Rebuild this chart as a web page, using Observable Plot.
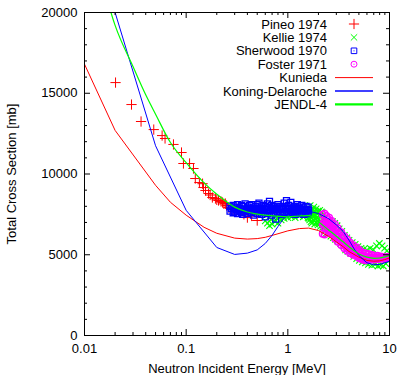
<!DOCTYPE html>
<html><head><meta charset="utf-8">
<script src="https://cdn.jsdelivr.net/npm/d3@7"></script>
<script src="https://cdn.jsdelivr.net/npm/@observablehq/plot@0.6"></script>
<style>body{margin:0;background:#fff}#chart{width:399px;height:375px}</style>
</head><body><div id="chart"></div>
<script>
// ---- tick values / labels ----
const xMajor = [0.01, 0.1, 1, 10];
const xMajorLabels = ["0.01", "0.1", "1", "10"];
const xMinor = [0.02,0.03,0.04,0.05,0.06,0.07,0.08,0.09,0.2,0.3,0.4,0.5,0.6,0.7,0.8,0.9,2,3,4,5,6,7,8,9];
const yMajor = [0, 5000, 10000, 15000, 20000];
const yMinor = [1000,2000,3000,4000,6000,7000,8000,9000,11000,12000,13000,14000,16000,17000,18000,19000];
const legendLabels = ["Pineo 1974","Kellie 1974","Sherwood 1970","Foster 1971","Kunieda","Koning-Delaroche","JENDL-4"];

// ---- experimental data [E (MeV), sigma (mb)] ----
const pineo = [[0.0202,15660],[0.029,14300],[0.036,13250],[0.048,12750],[0.058,12380],[0.062,12200],
 [0.075,11830],[0.09,11330],[0.094,10650],[0.108,10650],[0.118,10340],[0.123,9720],[0.135,9470],
 [0.145,9400],[0.148,9160],[0.155,8980],[0.166,8790],[0.172,8700],[0.181,8545],[0.194,8480],[0.2,8400],
 [0.208,8360],[0.22,8300],[0.228,8235],[0.235,8150],[0.243,8170],[0.25,8050],[0.26,7930],[0.272,7860],
 [0.29,7800],[0.31,7700],[0.34,7600],[0.37,7500],[0.40,7300],[0.44,7400],[0.50,7120]];

const kellie = [[0.60,7100],[0.63,6950],[0.66,6800],[0.68,7200],[0.70,6900],[0.72,7300],[0.75,7050],[0.78,7250],
 [0.80,6950],[0.83,7350],[0.86,7150],[0.89,7400],[0.92,7250],[0.96,7450],[1.0,7300],[1.04,7500],[1.08,7350],
 [1.13,7450],[1.18,7300],[1.24,7500],[1.30,7400],[1.36,7550],[1.42,7350],[1.48,7500],[1.55,7650],[1.58,7300],
 [1.60,7900],[1.61,7250],[1.62,7500],[1.64,7150],[1.65,7600],[1.66,8050],[1.68,7700],[1.69,7050],[1.70,7300],
 [1.72,6950],[1.73,7450],[1.74,7850],[1.76,7550],[1.77,7800],[1.78,7150],[1.80,7950],[1.81,7100],[1.82,7400],
 [1.84,6900],[1.85,7500],[1.86,7700],[1.88,7250],[1.89,7600],[1.90,7850],[1.92,7000],[1.93,7300],[1.95,7550],
 [1.97,7700],[1.98,6850],[2.0,7650],[2.01,7000],[2.03,7200],[2.05,7400],[2.06,7750],[2.09,6750],[2.1,7100],
 [2.12,7400],[2.14,7650],[2.15,7000],[2.17,6850],[2.18,7600],[2.2,6700],
 [2.25,7200],[2.3,6450],[2.35,7300],[2.4,6350],[2.45,7100],[2.5,6300],[2.6,7000],[2.65,6150],[2.75,7050],
 [2.8,6050],[2.9,6950],[2.95,5950],[3.05,6800],[3.1,5850],[3.2,6600],[3.3,5700],[3.4,6450],[3.5,5550],
 [3.6,6200],[3.7,5300],[3.8,6050],[3.9,5200],[4.0,5900],[4.15,5100],[4.3,5750],[4.45,4900],[4.6,5650],
 [4.75,4750],[4.9,5500],[5.05,4650],[5.25,5400],[5.4,4550],[5.6,5350],[5.8,4500],[6.0,5300],[6.2,4400],
 [6.45,5400],[6.7,4350],[6.95,5300],[7.2,4400],[7.45,5550],[7.7,4300],[7.95,5700],[8.2,4350],[8.45,5550],
 [8.7,4300],[8.95,5400],[9.2,4450],[9.45,5250],[9.7,4600],[9.9,5100]];

const sherwood = [[0.27,8000],[0.27,7700],[0.28,7850],[0.29,8050],[0.29,7600],[0.30,7950],[0.30,7650],[0.31,7800],
 [0.32,8100],[0.32,7550],[0.33,7900],[0.33,7700],[0.34,7850],[0.35,8050],[0.35,7600],[0.36,8000],[0.36,7500],
 [0.37,7800],[0.38,8150],[0.38,7650],[0.39,7750],[0.40,7950],[0.40,7550],[0.41,7850],[0.42,8050],[0.42,7700],
 [0.43,7800],[0.44,8100],[0.44,7600],[0.45,7750],[0.46,7900],[0.46,7450],[0.47,7850],[0.48,8000],[0.48,7650],
 [0.49,7800],[0.50,8100],[0.50,7550],[0.51,7850],[0.52,8200],[0.52,7700],[0.535,7800],[0.55,7950],[0.55,7500],
 [0.56,7750],[0.57,8050],[0.57,7600],[0.585,7850],[0.60,8000],[0.60,7350],[0.615,7800],[0.63,8150],[0.63,7550],
 [0.645,7900],[0.66,8300],[0.66,7650],[0.675,7750],[0.69,8050],[0.69,7450],[0.705,7850],[0.72,8000],[0.72,7600],
 [0.74,7800],[0.76,7900],[0.76,7200],[0.78,7700],[0.80,8100],[0.80,7550],[0.82,7850],[0.84,8000],[0.84,7650],
 [0.86,7800],[0.88,7950],[0.88,7500],[0.90,7850],[0.92,8200],[0.92,7600],[0.945,7900],[0.97,8350],[0.97,7700],
 [0.995,7850],[1.02,8050],[1.02,7550],[1.045,7800],[1.07,8250],[1.07,7650],[1.095,7850],[1.12,7950],[1.12,7600],
 [1.15,7750],[1.18,8000],[1.18,7500],[1.21,7800],[1.24,8100],[1.24,7650],[1.27,7850],[1.30,7950],[1.30,7550],
 [1.33,7750],[1.37,8050],[1.37,7600],[1.40,7800],[1.44,7900],[1.44,7500],[1.47,7750],[1.51,8000],[1.51,7650],
 [1.545,7800],[1.58,7950],[1.58,7550],[1.6,7750]];

const foster = [[2.2,7500],[2.2,6900],[2.2,6300],[2.25,6950],[2.3,7550],[2.3,7100],[2.3,6650],[2.3,6250],[2.35,6850],
 [2.4,7400],[2.4,7000],[2.4,6600],[2.45,6900],[2.48,7200],[2.48,6750],[2.55,7300],[2.55,6900],[2.55,6450],
 [2.6,6750],[2.62,7000],[2.62,6550],[2.7,7100],[2.7,6700],[2.7,6300],[2.75,6500],[2.8,6800],[2.8,6350],
 [2.9,6900],[2.9,6450],[2.9,6000],[2.95,6250],[3.0,6550],[3.0,6100],[3.1,6650],[3.1,6250],[3.1,5800],
 [3.15,6050],[3.2,6300],[3.2,5900],[3.35,6400],[3.35,6000],[3.35,5600],[3.4,5800],[3.47,6050],[3.47,5700],
 [3.6,6150],[3.6,5750],[3.6,5400],[3.65,5600],[3.72,5850],[3.72,5500],[3.85,5950],[3.85,5550],[3.85,5250],
 [3.9,5400],[3.97,5650],[3.97,5350],[4.1,5750],[4.1,5400],[4.1,5100],[4.2,5300],[4.25,5500],[4.25,5200],
 [4.4,5600],[4.4,5250],[4.4,5000],[4.5,5150],[4.57,5350],[4.57,5050],[4.75,5450],[4.75,5100],[4.75,4900],
 [4.8,5000],[4.9,5200],[4.9,4950],[5.05,5300],[5.05,4950],[5.05,4780],[5.1,4900],[5.2,5050],[5.2,4800],
 [5.4,5150],[5.4,4850],[5.4,4700],[5.5,4800],[5.6,4950],[5.6,4720],[5.8,5100],[5.8,4750],[5.8,4650],
 [5.9,4850],[6.0,4900],[6.2,5050],[6.2,4700],[6.3,4780],[6.4,4850],[6.65,5000],[6.65,4700],[6.8,4780],
 [6.9,4850],[7.1,4950],[7.1,4700],[7.25,4780],[7.35,4830],[7.6,4950],[7.6,4720],[7.75,4780],[7.9,4830],
 [8.2,4900],[8.2,4750],[8.35,4800],[8.5,4820],[8.75,4850],[8.75,4760],[9.0,4800],[9.1,4830],[9.4,4850],
 [9.4,4800],[9.55,4830],[9.7,4850],[9.9,4880],[9.9,4820]];

// ---- evaluated / model curves ----
const kunieda = [[0.01,16800],[0.02,12700],[0.05,9300],[0.07,8250],[0.1,7450],[0.15,6700],[0.2,6330],[0.3,6030],
 [0.4,5970],[0.5,6000],[0.6,6080],[0.8,6300],[1.0,6480],[1.3,6620],[1.6,6650],[2.0,6500],[2.5,6150],[3.0,5800],
 [3.5,5500],[4.0,5200],[5.0,4850],[6.0,4650],[7.0,4600],[8.0,4620],[9.0,4700],[10,4800]];
const koning = [[0.02,20000],[0.05,11750],[0.1,7750],[0.2,5450],[0.3,5020],[0.4,5100],[0.5,5300],[0.6,5700],
 [0.7,6200],[0.8,6750],[0.9,7200],[1.0,7500],[1.2,7700],[1.5,7750],[2.0,7550],[2.5,7250],[3.0,6850],[3.5,6450],
 [4.0,5900],[4.5,5350],[5.0,4950],[6.0,4500],[7.0,4380],[8.0,4400],[9.0,4500],[10,4600]];
const jendl = [[0.015,21800],[0.02,19200],[0.03,16650],[0.04,14900],[0.05,13700],[0.07,11950],[0.1,10700],
 [0.15,9450],[0.2,8750],[0.3,7950],[0.4,7650],[0.6,7450],[0.8,7380],[1.0,7350],[1.3,7400],[1.6,7420],[1.8,7300],
 [2.0,7050],[2.5,6550],[3.0,6150],[3.5,5800],[4.0,5500],[5.0,5050],[6.0,4850],[7.0,4780],[8.0,4800],[9.0,4870],[10,4950]];

const RED = "#ff0000", GREEN = "#00ff00", BLUE = "#0000ff", MAGENTA = "#ff00ff";
const W = 399, H = 375, mT = 12, mR = 10, mB = 40, mL = 84;
const innerH = H - mT - mB, innerW = W - mL - mR;
const X = d => d[0], Y = d => d[1];

const plot = Plot.plot({
  width: W, height: H,
  marginTop: mT, marginRight: mR, marginBottom: mB, marginLeft: mL,
  style: {fontFamily: "'Liberation Sans', Arial, sans-serif", fontSize: "13px", color: "#000", background: "#fff"},
  x: {type: "log", domain: [0.01, 10]},
  y: {type: "linear", domain: [0, 20000]},
  marks: [
    // data points
    Plot.dot(pineo, {x: X, y: Y, symbol: "plus", stroke: RED, r: 3.4, strokeWidth: 1, clip: true}),
    Plot.dot(kellie, {x: X, y: Y, symbol: "times", stroke: GREEN, r: 3, strokeWidth: 1.1, clip: true}),
    Plot.dot(sherwood, {x: X, y: Y, symbol: "square2", stroke: BLUE, r: 3.8, strokeWidth: 1.3, clip: true}),
    Plot.dot(sherwood, {x: X, y: Y, r: 0.6, fill: BLUE, clip: true}),
    Plot.dot(foster, {x: X, y: Y, symbol: "circle", stroke: MAGENTA, r: 3.2, strokeWidth: 1.4, clip: true}),
    Plot.dot(foster, {x: X, y: Y, r: 0.7, fill: MAGENTA, clip: true}),
    // curves
    Plot.line(kunieda, {x: X, y: Y, stroke: RED, strokeWidth: 1, clip: true}),
    Plot.line(koning, {x: X, y: Y, stroke: BLUE, strokeWidth: 1, clip: true}),
    Plot.line(jendl, {x: X, y: Y, stroke: GREEN, strokeWidth: 1.2, curve: "monotone-x", clip: true}),
    // inward ticks (mirrored on all sides)
    Plot.tickX(xMajor, {x: d => d, insetTop: innerH - 6, stroke: "#000"}),
    Plot.tickX(xMajor, {x: d => d, insetBottom: innerH - 6, stroke: "#000"}),
    Plot.tickX(xMinor, {x: d => d, insetTop: innerH - 3, stroke: "#000"}),
    Plot.tickX(xMinor, {x: d => d, insetBottom: innerH - 3, stroke: "#000"}),
    Plot.tickY(yMajor, {y: d => d, insetRight: innerW - 6, stroke: "#000"}),
    Plot.tickY(yMajor, {y: d => d, insetLeft: innerW - 6, stroke: "#000"}),
    Plot.tickY(yMinor, {y: d => d, insetRight: innerW - 3, stroke: "#000"}),
    Plot.tickY(yMinor, {y: d => d, insetLeft: innerW - 3, stroke: "#000"}),
    Plot.frame({stroke: "#000", strokeWidth: 1}),
    Plot.axisX({ticks: xMajor, tickSize: 0, tickPadding: 8, tickFormat: d => xMajorLabels[xMajor.indexOf(d)],
      fontSize: 13, label: "Neutron Incident Energy [MeV]", labelAnchor: "center", labelOffset: 37, labelArrow: "none"}),
    Plot.axisY({ticks: yMajor, tickSize: 0, tickPadding: 7, tickFormat: d => String(d),
      fontSize: 13, label: "Total Cross Section [mb]", labelAnchor: "center", labelOffset: 78, labelArrow: "none"})
  ]
});
document.getElementById("chart").appendChild(plot);

// ---- legend (inside plot, top right) ----
const svg = d3.select(plot.tagName.toLowerCase() === "svg" ? plot : plot.querySelector("svg"));
const lg = svg.append("g").attr("font-family", "'Liberation Sans', Arial, sans-serif").attr("font-size", 13);
const rowY = i => 24 + i * 13.4;
const symbols = [
  {type: d3.symbolPlus, size: 36, color: RED},
  {type: d3.symbolTimes, size: 28, color: GREEN},
  {type: d3.symbolSquare2, size: 40, color: BLUE, dot: true},
  {type: d3.symbolCircle, size: 28, color: MAGENTA, dot: true},
  {line: true, color: RED, w: 1},
  {line: true, color: BLUE, w: 1.3},
  {line: true, color: GREEN, w: 2.2}
];
legendLabels.forEach((lab, i) => {
  const y = rowY(i);
  lg.append("text").attr("x", 327).attr("y", y).attr("dy", "0.35em").attr("text-anchor", "end").attr("fill", "#000").text(lab);
  const s = symbols[i];
  if (s.line) {
    lg.append("line").attr("x1", 335).attr("x2", 373).attr("y1", y).attr("y2", y).attr("stroke", s.color).attr("stroke-width", s.w);
  } else {
    lg.append("path").attr("transform", `translate(354,${y})`).attr("d", d3.symbol(s.type, s.size)())
      .attr("fill", "none").attr("stroke", s.color).attr("stroke-width", 1);
    if (s.dot) lg.append("circle").attr("cx", 354).attr("cy", y).attr("r", 0.6).attr("fill", s.color);
  }
});
</script></body></html>
